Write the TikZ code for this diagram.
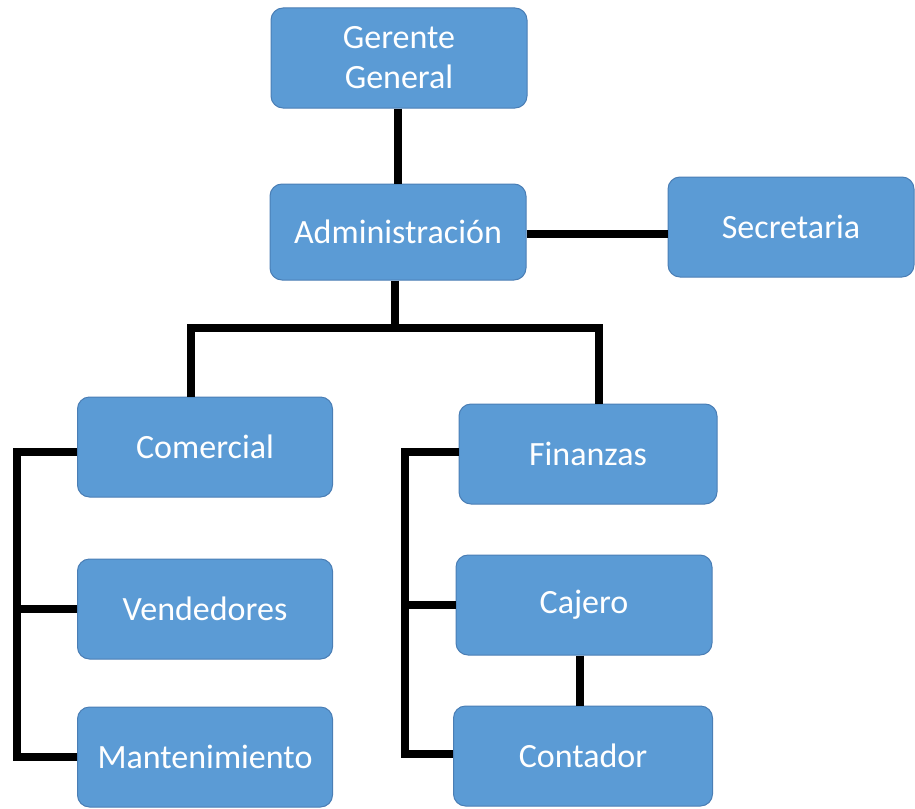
\documentclass[tikz,border=0pt]{standalone}
\usepackage{fontspec}
\setmainfont{Carlito}
\begin{document}
\definecolor{boxfill}{HTML}{5B9BD5}
\definecolor{boxline}{HTML}{4A7EB5}
\begin{tikzpicture}[x=1pt,y=-1pt,
  unit/.style={draw=boxline, line width=1pt, fill=boxfill, rounded corners=12pt,
    text=white, align=center, inner sep=0pt,
    minimum width=256pt, minimum height=100pt,
    font=\fontsize{34}{40}\selectfont},
  link/.style={line width=8pt, black}]
\useasboundingbox (0,0) rectangle (915,808);

% boxes
\node[unit] (ger) at (399,58) {Gerente\\General};
\node[unit, minimum height=96pt] (adm) at (398,232) {Administración};
\node[unit, minimum width=246pt] (sec) at (791,227) {Secretaria};
\node[unit, minimum width=255pt] (com) at (205,447) {Comercial};
\node[unit, minimum width=258pt] (fin) at (588,454) {Finanzas};
\node[unit, minimum width=255pt] (ven) at (205,609) {Vendedores};
\node[unit] (caj) at (584,605) {Cajero};
\node[unit, minimum width=255pt] (man) at (205,757) {Mantenimiento};
\node[unit, minimum width=259pt] (con) at (583,756) {Contador};

% junction points
\coordinate (split) at (395,328);
\coordinate (lbus) at (17,452);
\coordinate (rbus) at (405,452);

% connectors
\draw[link] (ger.south -| 398,0) -- (adm.north -| 398,0);
\draw[link] (adm.east |- 0,234) -- (sec.west |- 0,234);
\draw[link] (adm.south -| split) -- (split);
\draw[link] (com.north -| 191,0) |- (split) -| (fin.north -| 599,0);

\draw[link] (com.west |- lbus) -- (lbus) |- (man.west);
\draw[link] (lbus |- ven.west) -- (ven.west);

\draw[link] (fin.west |- rbus) -- (rbus) |- (con.west |- 0,754);
\draw[link] (rbus |- caj.west) -- (caj.west);

\draw[link] (caj.south -| 580,0) -- (con.north -| 580,0);
\end{tikzpicture}
\end{document}
